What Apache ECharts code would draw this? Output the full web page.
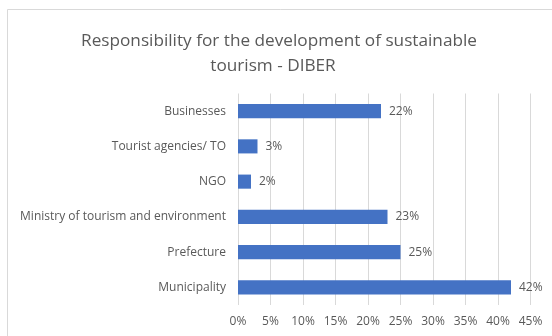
<!DOCTYPE html>
<html>
<head>
<meta charset="utf-8">
<script src="https://cdn.jsdelivr.net/npm/echarts@6/dist/echarts.min.js"></script>
<style>
  html, body { margin: 0; padding: 0; background: #fff; }
  #chart { width: 552px; height: 336px; }
</style>
</head>
<body>
<div id="chart"></div>
<script>
// Categories listed bottom to top (category axis on y grows upward)
const categories = [
  'Municipality',
  'Prefecture',
  'Ministry of tourism and environment',
  'NGO',
  'Tourist agencies/ TO',
  'Businesses'
];
const shares = [42, 25, 23, 2, 3, 22];
const tickValues = [0, 5, 10, 15, 20, 25, 30, 35, 40, 45];
const titleLines = ['Responsibility for the development of sustainable', 'tourism - DIBER'];

const font = '"Open Sans", "Liberation Sans", sans-serif';
const textColor = '#595959';

const titleStyle = {
  fontFamily: font,
  fontSize: 17.2,
  fontWeight: 'normal',
  color: textColor
};

const chart = echarts.init(document.getElementById('chart'), null, { renderer: 'canvas' });
chart.setOption({
  animation: false,
  backgroundColor: '#ffffff',
  title: [
    { text: titleLines[0], left: 274, textAlign: 'center', top: 28, textStyle: titleStyle },
    { text: titleLines[1], left: 268, textAlign: 'center', top: 53, textStyle: titleStyle }
  ],
  graphic: [{
    type: 'rect',
    shape: { x: 7.5, y: 9.5, width: 560, height: 340 },
    style: { fill: 'none', stroke: '#d9d9d9', lineWidth: 1 },
    silent: true,
    z: -1
  }],
  grid: { left: 238, right: 21.5, top: 93.5, bottom: 31, containLabel: false },
  xAxis: {
    type: 'value',
    min: tickValues[0],
    max: tickValues[tickValues.length - 1],
    interval: 5,
    axisLine: { show: false },
    axisTick: { show: false },
    splitLine: { show: true, lineStyle: { color: '#d9d9d9', width: 1 } },
    axisLabel: {
      formatter: v => v + '%',
      fontFamily: font,
      fontSize: 12,
      color: textColor,
      margin: 11
    }
  },
  yAxis: {
    type: 'category',
    data: categories,
    axisLine: { show: false },
    axisTick: { show: false },
    axisLabel: {
      fontFamily: font,
      fontSize: 12,
      color: textColor,
      margin: 12
    }
  },
  series: [{
    type: 'bar',
    data: shares,
    barCategoryGap: '60%',
    itemStyle: { color: '#4472c4' },
    label: {
      show: true,
      position: 'right',
      distance: 8,
      formatter: p => p.value + '%',
      fontFamily: font,
      fontSize: 12,
      color: textColor
    }
  }]
});
</script>
</body>
</html>
